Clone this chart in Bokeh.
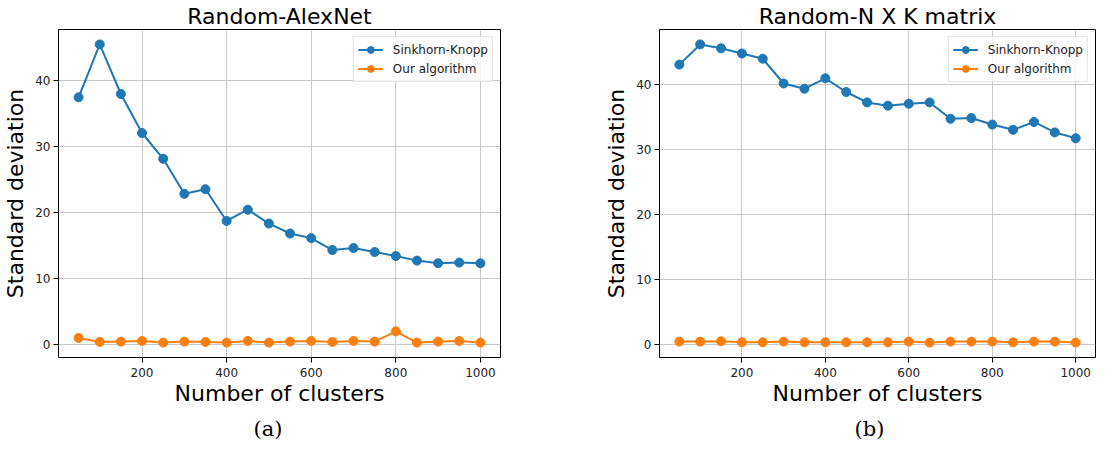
from bokeh.plotting import figure
from bokeh.layouts import row
from bokeh.models import FixedTicker, Range1d, Title, Legend, LegendItem
from bokeh.embed import file_html
from bokeh.resources import INLINE

clusters = [50, 100, 150, 200, 250, 300, 350, 400, 450, 500,
            550, 600, 650, 700, 750, 800, 850, 900, 950, 1000]

alexnet_sinkhorn = [37.4, 45.4, 37.9, 32.0, 28.1, 22.8, 23.5, 18.7, 20.4, 18.3,
                    16.8, 16.1, 14.3, 14.6, 14.0, 13.4, 12.7, 12.3, 12.4, 12.3]
alexnet_ours = [1.0, 0.4, 0.45, 0.55, 0.3, 0.45, 0.4, 0.3, 0.55, 0.3,
                0.45, 0.55, 0.4, 0.55, 0.45, 2.0, 0.3, 0.45, 0.55, 0.3]

matrix_sinkhorn = [43.0, 46.1, 45.5, 44.7, 43.9, 40.1, 39.3, 40.9, 38.8, 37.2,
                   36.7, 37.0, 37.2, 34.7, 34.8, 33.8, 33.0, 34.2, 32.6, 31.7]
matrix_ours = [0.5, 0.5, 0.55, 0.4, 0.4, 0.5, 0.4, 0.4, 0.4, 0.4,
               0.4, 0.5, 0.35, 0.5, 0.5, 0.5, 0.4, 0.5, 0.5, 0.35]

x_ticks = [200, 400, 600, 800, 1000]
y_ticks = [0, 10, 20, 30, 40]
series_names = ["Sinkhorn-Knopp", "Our algorithm"]
titles = ["Random-AlexNet", "Random-N X K matrix"]
captions = ["(a)", "(b)"]
x_label = "Number of clusters"
y_label = "Standard deviation"

BLUE = "#1f77b4"
ORANGE = "#ff7f0e"
FONT = "DejaVu Sans"


def padded(vals, frac=0.05):
    lo, hi = min(vals), max(vals)
    span = hi - lo
    return Range1d(lo - frac * span, hi + frac * span)


def make_panel(title, caption, s1, s2, width, bl, br):
    p = figure(width=width, height=446, output_backend="svg", toolbar_location=None,
               min_border_left=bl, min_border_right=br, min_border_top=24,
               min_border_bottom=89,
               x_range=padded(clusters), y_range=padded(s1 + s2))
    p.title = Title(text=title, align="center", text_font=FONT,
                    text_font_size="22px", text_font_style="normal",
                    text_color="#000000", standoff=2)
    p.background_fill_color = "white"
    p.border_fill_color = "white"
    p.outline_line_color = "black"
    p.outline_line_width = 1
    p.outline_line_alpha = 1

    for ax in (p.xaxis[0], p.yaxis[0]):
        ax.axis_line_color = None
        ax.major_tick_in = 0
        ax.major_tick_out = 5
        ax.minor_tick_in = 0
        ax.minor_tick_out = 0
        ax.major_tick_line_color = "black"
        ax.major_label_text_font = FONT
        ax.major_label_text_font_size = "12px"
        ax.major_label_text_color = "#222222"
        ax.major_label_standoff = 3
        ax.axis_label_text_font = FONT
        ax.axis_label_text_font_size = "22px"
        ax.axis_label_text_font_style = "normal"
        ax.axis_label_text_color = "#000000"
    p.xaxis[0].ticker = FixedTicker(ticks=x_ticks)
    p.yaxis[0].ticker = FixedTicker(ticks=y_ticks)
    p.xaxis[0].axis_label = x_label
    p.yaxis[0].axis_label = y_label
    p.xaxis[0].major_label_standoff = 5
    p.xaxis[0].axis_label_standoff = 1
    p.yaxis[0].axis_label_standoff = 4

    p.xgrid.ticker = FixedTicker(ticks=x_ticks)
    p.ygrid.ticker = FixedTicker(ticks=y_ticks)
    p.grid.grid_line_color = "#c8c8c8"
    p.grid.grid_line_width = 1

    l1 = p.line(clusters, s1, line_color=BLUE, line_width=2)
    m1 = p.scatter(clusters, s1, size=9, fill_color=BLUE, line_color=BLUE)
    l2 = p.line(clusters, s2, line_color=ORANGE, line_width=2)
    m2 = p.scatter(clusters, s2, size=9, fill_color=ORANGE, line_color=ORANGE)

    legend = Legend(items=[LegendItem(label=series_names[0], renderers=[l1, m1]),
                           LegendItem(label=series_names[1], renderers=[l2, m2])],
                    location="top_right", margin=7, padding=4, spacing=2,
                    glyph_width=25, glyph_height=17, label_height=17,
                    label_standoff=10, label_text_font=FONT,
                    label_text_font_size="12px", label_text_color="#222222",
                    border_line_color="#cccccc", border_line_width=1,
                    background_fill_color="white", background_fill_alpha=0.8)
    p.add_layout(legend, "center")

    cap = Title(text=caption, align="left", offset=195, text_font="DejaVu Serif",
                text_font_size="21px", text_font_style="normal",
                text_color="#000000", standoff=12)
    p.add_layout(cap, "below")
    return p


p1 = make_panel(titles[0], captions[0], alexnet_sinkhorn, alexnet_ours, 592, 52, 92)
p2 = make_panel(titles[1], captions[1], matrix_sinkhorn, matrix_ours, 504, 67, 1)

layout = row(p1, p2)
open("out.html", "w").write(file_html(layout, INLINE))
